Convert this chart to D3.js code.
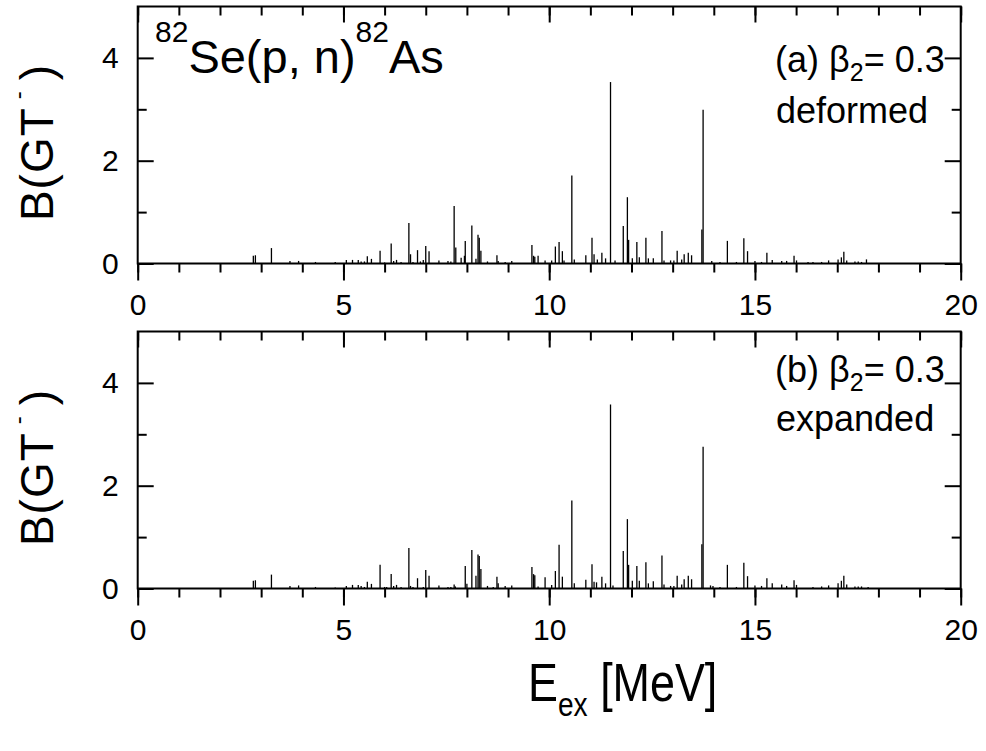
<!doctype html>
<html>
<head>
<meta charset="utf-8">
<script src="https://d3js.org/d3.v7.min.js"></script>
<style>
  body { margin: 0; background: #fff; }
  text { font-family: Arial, "Liberation Sans", sans-serif; fill: #000; }
</style>
</head>
<body>
<svg width="986" height="751"></svg>
<script>
// excitation energy (MeV) and B(GT-) strength
var deformedLines = [
  [2.81,0.15],[2.86,0.16],[3.25,0.30],[3.70,0.05],[3.91,0.05],[4.32,0.03],[4.80,0.03],
  [5.07,0.07],[5.22,0.07],[5.36,0.07],[5.43,0.04],[5.51,0.04],[5.58,0.14],[5.68,0.09],
  [5.89,0.25],[6.00,0.02],[6.16,0.39],[6.22,0.05],[6.29,0.07],[6.40,0.03],[6.59,0.79],
  [6.63,0.18],[6.69,0.03],[6.80,0.26],[6.87,0.04],[6.94,0.07],[7.00,0.34],[7.08,0.24],
  [7.32,0.06],[7.54,0.05],[7.61,0.04],[7.69,1.12],[7.73,0.31],[7.86,0.11],[7.94,0.15],
  [7.96,0.44],[8.12,0.74],[8.22,0.09],[8.27,0.56],[8.30,0.50],[8.34,0.25],[8.50,0.04],
  [8.73,0.16],[8.76,0.05],[8.93,0.03],[9.09,0.05],[9.58,0.36],[9.62,0.15],[9.65,0.13],
  [9.73,0.15],[9.90,0.06],[10.06,0.06],[10.15,0.33],[10.24,0.42],[10.32,0.24],[10.36,0.06],
  [10.55,1.71],[10.61,0.08],[10.89,0.16],[11.04,0.50],[11.09,0.18],[11.17,0.08],[11.28,0.21],
  [11.37,0.10],[11.49,3.53],[11.60,0.06],[11.80,0.73],[11.90,1.29],[11.93,0.46],[12.02,0.10],
  [12.13,0.42],[12.19,0.12],[12.35,0.50],[12.41,0.10],[12.53,0.10],[12.74,0.63],[12.79,0.06],
  [12.95,0.06],[13.03,0.06],[13.11,0.25],[13.22,0.08],[13.28,0.18],[13.38,0.21],[13.46,0.16],
  [13.71,0.66],[13.74,2.99],[13.95,0.05],[14.15,0.03],[14.33,0.44],[14.55,0.03],[14.73,0.49],
  [14.82,0.24],[15.00,0.05],[15.16,0.03],[15.29,0.21],[15.42,0.07],[15.65,0.05],[15.77,0.05],
  [15.95,0.15],[16.01,0.06],[16.29,0.03],[16.41,0.03],[16.62,0.03],[16.79,0.06],[17.02,0.08],
  [17.10,0.12],[17.16,0.23],[17.23,0.06],[17.43,0.04],[17.51,0.04],[17.59,0.03],[17.71,0.08]
];
var expandedLines = [
  [2.81,0.15],[2.86,0.16],[3.25,0.27],[3.70,0.05],[3.91,0.06],[4.32,0.03],[4.80,0.02],
  [5.07,0.05],[5.22,0.07],[5.36,0.07],[5.43,0.05],[5.51,0.03],[5.58,0.13],[5.68,0.09],
  [5.89,0.46],[6.00,0.03],[6.05,0.03],[6.16,0.28],[6.22,0.05],[6.29,0.07],[6.40,0.03],
  [6.59,0.79],[6.63,0.05],[6.69,0.03],[6.80,0.20],[6.94,0.03],[7.00,0.36],[7.08,0.25],
  [7.32,0.06],[7.54,0.03],[7.61,0.03],[7.69,0.08],[7.72,0.04],[7.96,0.44],[8.00,0.09],
  [8.12,0.75],[8.22,0.25],[8.27,0.66],[8.30,0.63],[8.34,0.38],[8.50,0.05],[8.64,0.03],
  [8.73,0.23],[8.76,0.10],[8.93,0.05],[9.09,0.06],[9.58,0.42],[9.62,0.28],[9.65,0.26],
  [9.73,0.04],[9.90,0.22],[10.06,0.07],[10.15,0.34],[10.24,0.85],[10.32,0.23],[10.55,1.71],
  [10.61,0.10],[10.89,0.17],[11.04,0.47],[11.09,0.13],[11.15,0.12],[11.28,0.23],[11.37,0.10],
  [11.49,3.58],[11.55,0.06],[11.80,0.73],[11.90,1.35],[11.93,0.46],[12.02,0.15],[12.13,0.44],
  [12.19,0.15],[12.35,0.51],[12.41,0.10],[12.53,0.14],[12.74,0.64],[12.79,0.08],[12.95,0.05],
  [13.03,0.05],[13.11,0.25],[13.22,0.08],[13.28,0.18],[13.38,0.25],[13.46,0.18],[13.71,0.86],
  [13.74,2.76],[13.92,0.06],[13.98,0.05],[14.15,0.03],[14.33,0.46],[14.55,0.03],[14.73,0.50],
  [14.82,0.24],[15.00,0.06],[15.16,0.05],[15.29,0.20],[15.42,0.10],[15.65,0.08],[15.77,0.05],
  [15.95,0.16],[16.01,0.07],[16.41,0.03],[16.62,0.04],[16.79,0.06],[17.02,0.10],[17.10,0.15],
  [17.16,0.25],[17.23,0.08],[17.43,0.04],[17.51,0.04],[17.59,0.04],[17.75,0.03]
];

var xMajor = [0, 5, 10, 15, 20];
var xMinor = d3.range(0, 21);
var yMajor = [0, 2, 4];
var yMinor = [1, 3];

var svg = d3.select("svg");
var left = 137.7, width = 823, height = 257;

var x = d3.scaleLinear().domain([0, 20]).range([0, width]);
var y = d3.scaleLinear().domain([0, 5]).range([height, 0]);

function styleAxis(sel) {
  sel.select(".domain").remove();
  sel.selectAll("line").attr("stroke", "#000").attr("stroke-width", 2);
  sel.selectAll("text").style("font-size", "30px").attr("fill", "#000");
}

function drawPanel(top, lines, tag, word, tagY, wordY) {
  var g = svg.append("g").attr("transform", "translate(" + left + "," + top + ")");

  // spikes
  g.append("g").selectAll("line")
    .data(lines)
    .enter()
    .append("line")
    .attr("x1", d => x(d[0]))
    .attr("x2", d => x(d[0]))
    .attr("y1", y(0))
    .attr("y2", d => y(d[1]))
    .attr("stroke", "#000")
    .attr("stroke-width", 1.3);

  // bottom axis, ticks out
  g.append("g").attr("transform", "translate(0," + height + ")")
    .call(d3.axisBottom(x).tickValues(xMinor).tickSize(9).tickFormat(""))
    .call(styleAxis);
  g.append("g").attr("transform", "translate(0," + height + ")")
    .call(d3.axisBottom(x).tickValues(xMajor).tickSize(17).tickPadding(13).tickFormat(d3.format("d")))
    .call(styleAxis);

  // top axis, ticks in
  g.append("g")
    .call(d3.axisTop(x).tickValues(xMinor).tickSize(-9).tickFormat(""))
    .call(styleAxis);
  g.append("g")
    .call(d3.axisTop(x).tickValues(xMajor).tickSize(-16).tickFormat(""))
    .call(styleAxis);

  // left axis, ticks in
  g.append("g")
    .call(d3.axisLeft(y).tickValues(yMinor).tickSize(-9).tickFormat(""))
    .call(styleAxis);
  g.append("g")
    .call(d3.axisLeft(y).tickValues(yMajor).tickSizeInner(-16).tickSizeOuter(0).tickPadding(19).tickFormat(d3.format("d")))
    .call(styleAxis);

  // right axis, ticks in
  g.append("g").attr("transform", "translate(" + width + ",0)")
    .call(d3.axisRight(y).tickValues(yMinor).tickSize(-9).tickFormat(""))
    .call(styleAxis);
  g.append("g").attr("transform", "translate(" + width + ",0)")
    .call(d3.axisRight(y).tickValues(yMajor).tickSize(-16).tickFormat(""))
    .call(styleAxis);

  // frame
  g.append("rect")
    .attr("width", width).attr("height", height)
    .attr("fill", "none").attr("stroke", "#000").attr("stroke-width", 2);

  // panel labels
  var t = svg.append("text").attr("x", 775).attr("y", tagY).style("font-size", "36px");
  t.append("tspan").text(tag + " \u03b2");
  t.append("tspan").attr("dy", 9).style("font-size", "25px").text("2");
  t.append("tspan").attr("dy", -9).text("= 0.3");
  svg.append("text").attr("x", 776).attr("y", wordY).style("font-size", "36px").text(word);

  // y label
  var yl = svg.append("text")
    .attr("text-anchor", "middle")
    .attr("transform", "translate(53," + (top + 136) + ")rotate(-90)")
    .style("font-size", "46px")
    .style("letter-spacing", "1px");
  yl.append("tspan").text("B(GT");
  yl.append("tspan").attr("dx", 8).attr("dy", -27).style("font-size", "24px").text("-");
  yl.append("tspan").attr("dx", 10).attr("dy", 27).text(")");
}

drawPanel(6.5, deformedLines, "(a)", "deformed", 72, 123);
drawPanel(331.5, expandedLines, "(b)", "expanded", 382, 431);

// reaction title
var title = svg.append("text").attr("x", 155).attr("y", 73).style("font-size", "47px");
title.append("tspan").attr("dy", -31).style("font-size", "30px").text("82");
title.append("tspan").attr("dy", 31).text("Se(p, n)");
title.append("tspan").attr("dy", -31).style("font-size", "30px").text("82");
title.append("tspan").attr("dy", 31).text("As");

// x label, slightly condensed like the original
var xl = svg.append("text")
  .attr("transform", "translate(528,701)scale(0.88,1.05)")
  .style("font-size", "51px");
xl.append("tspan").text("E");
xl.append("tspan").attr("dy", 14).style("font-size", "32px").text("ex");
xl.append("tspan").attr("dy", -14).text(" [MeV]");
</script>
</body>
</html>
